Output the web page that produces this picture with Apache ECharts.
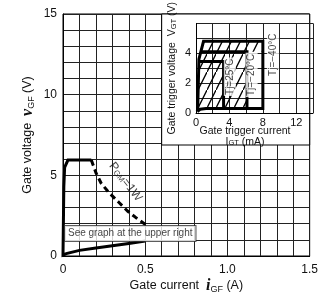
<!DOCTYPE html>
<html>
<head>
<meta charset="utf-8">
<script src="https://cdn.jsdelivr.net/npm/echarts@6/dist/echarts.min.js"></script>
<style>
  html, body { margin: 0; padding: 0; background: #fff; }
  #chart { width: 321px; height: 299px; }
</style>
</head>
<body>
<div id="chart"></div>
<script>
// main chart: gate characteristics (A, V)
const xTickVals = [0, 0.5, 1.0, 1.5];
const xTickText = ["0", "0.5", "1.0", "1.5"];
const yTickVals = [0, 5, 10, 15];
const yTickText = ["0", "5", "10", "15"];

// lower curve + left edge + top plateau (solid)
const solidCurve = [
  [0.5, 0.93], [0.4, 0.78], [0.3, 0.63], [0.2, 0.5], [0.1, 0.35], [0.02, 0.15], [0, 0.05],
  [0.005, 0.05], [0.005, 4.3], [0.01, 5.5], [0.03, 5.95], [0.172, 5.95]
];
// PGM = 1W (dashed)
const pgmCurve = [
  [0.172, 5.95], [0.178, 5.83], [0.202, 5.12], [0.232, 4.51], [0.282, 3.9],
  [0.342, 3.3], [0.392, 2.79], [0.442, 2.39], [0.502, 1.95]
];

// inset: gate trigger (mA, V)
const insetXTickVals = [0, 4, 8, 12];
const insetYTickVals = [0, 2, 4];
const tjMinus40 = [
  [0.15, 0.1], [0.5, 0.25], [1.2, 0.3], [8, 0.3], [8, 4.8], [0.9, 4.8], [0.35, 3.6], [0.2, 0.2], [0.15, 0.1]
];
const tjMinus20 = [[0.58, 4.1], [6.1, 4.1], [6.1, 0.3]];
const tj25 = [[0.33, 3.45], [3.3, 3.45], [3.3, 0.3]];
const hatchRegion = [
  [0.15, 0.1], [0.5, 0.25], [1.2, 0.3], [6.1, 0.3], [6.1, 4.1], [8, 4.1], [8, 4.8], [0.9, 4.8], [0.35, 3.6], [0.2, 0.2]
];

const isTick = (vals, v) => vals.some(t => Math.abs(t - v) < 1e-6);
const tickText = (vals, texts, v) => {
  const i = vals.findIndex(t => Math.abs(t - v) < 1e-6);
  return i < 0 ? "" : texts[i];
};

// hatch pattern
const pat = document.createElement("canvas");
pat.width = 9; pat.height = 18;
const pctx = pat.getContext("2d");
pctx.strokeStyle = "#000";
pctx.lineWidth = 1.3;
pctx.beginPath(); pctx.moveTo(0, 18); pctx.lineTo(9, 0); pctx.stroke();

const font = "Liberation Sans";
const gridColor = "#222";

const chart = echarts.init(document.getElementById("chart"), null, { renderer: "canvas" });

const option = {
  animation: false,
  backgroundColor: "#fff",
  textStyle: { fontFamily: font },
  grid: [
    { left: 63, right: 8, top: 14, bottom: 38, show: true, borderColor: "#000", borderWidth: 1 },
    { left: 196, right: 8, top: 14, bottom: 186 }
  ],
  xAxis: [
    {
      type: "value", gridIndex: 0, min: 0, max: 1.5, interval: 0.1,
      axisLine: { show: true, lineStyle: { color: "#000", width: 1 } },
      axisTick: { show: false },
      splitLine: { show: true, lineStyle: { color: gridColor, width: 1 } },
      axisLabel: {
        margin: 8, fontSize: 12, color: "#111", showMaxLabel: true,
        formatter: v => tickText(xTickVals, xTickText, v)
      },
      name: "Gate current  {it|i}{sub|GF} (A)", nameLocation: "middle", nameGap: 22,
      nameMoveOverlap: false,
      nameTextStyle: {
        fontSize: 12.5, color: "#111", fontFamily: font,
        rich: {
          it: { fontFamily: "Liberation Serif", fontStyle: "italic", fontWeight: "bold", fontSize: 16, verticalAlign: "bottom" },
          sub: { fontSize: 9, verticalAlign: "bottom" }
        }
      }
    },
    {
      type: "value", gridIndex: 1, min: 0, max: 14, interval: 2, z: 3,
      axisLine: { show: true, onZero: false, lineStyle: { color: "#000", width: 1 } },
      axisTick: { show: false },
      splitLine: { show: true, lineStyle: { color: gridColor, width: 1 } },
      axisLabel: {
        margin: 4, fontSize: 11, color: "#111",
        formatter: v => isTick(insetXTickVals, v) ? String(v) : ""
      },
      name: "Gate trigger current\n{s|I}{sub|GT} (mA)", nameLocation: "middle", nameGap: 13,
      nameMoveOverlap: false,
      nameTextStyle: {
        fontSize: 10.5, color: "#111", lineHeight: 10.5, padding: [0, 19, 0, 0],
        rich: { s: { fontSize: 10.5, lineHeight: 10.5 }, sub: { fontSize: 7.5, lineHeight: 10.5, verticalAlign: "bottom" } }
      }
    }
  ],
  yAxis: [
    {
      type: "value", gridIndex: 0, min: 0, max: 15, interval: 1,
      axisLine: { show: true, lineStyle: { color: "#000", width: 1 } },
      axisTick: { show: false },
      splitLine: { show: true, lineStyle: { color: gridColor, width: 1 } },
      axisLabel: {
        margin: 6, fontSize: 12, color: "#111",
        formatter: v => tickText(yTickVals, yTickText, v)
      },
      name: "Gate voltage  {it|v}{sub|GF} (V)", nameLocation: "middle", nameGap: 27,
      nameMoveOverlap: false,
      nameTextStyle: {
        fontSize: 12.5, color: "#111", fontFamily: font,
        rich: {
          it: { fontFamily: "Liberation Serif", fontStyle: "italic", fontWeight: "bold", fontSize: 16, verticalAlign: "bottom" },
          sub: { fontSize: 9, verticalAlign: "bottom" }
        }
      }
    },
    {
      type: "value", gridIndex: 1, min: 0, max: 6, interval: 1, z: 3,
      axisLine: { show: true, onZero: false, lineStyle: { color: "#000", width: 1 } },
      axisTick: { show: false },
      splitLine: { show: true, lineStyle: { color: gridColor, width: 1 } },
      axisLabel: {
        margin: 5, fontSize: 11, color: "#111",
        formatter: v => isTick(insetYTickVals, v) ? String(v) : ""
      },
      name: "Gate trigger voltage  {s|V}{sub|GT} (V)", nameLocation: "middle", nameGap: 18,
      nameMoveOverlap: false,
      nameTextStyle: {
        fontSize: 10.5, color: "#111",
        rich: { s: { fontSize: 10.5 }, sub: { fontSize: 7.5, verticalAlign: "bottom" } }
      }
    }
  ],
  series: [
    {
      type: "line", xAxisIndex: 0, yAxisIndex: 0, data: solidCurve,
      showSymbol: false, symbol: "none", z: 2,
      lineStyle: { color: "#000", width: 3, join: "miter" },
      markArea: {
        silent: true,
        itemStyle: { color: "#fff", borderColor: "#000", borderWidth: 1 },
        data: [[{ coord: [0.6, 6.88] }, { coord: [1.5, 15] }]]
      }
    },
    {
      type: "line", xAxisIndex: 0, yAxisIndex: 0, data: pgmCurve,
      showSymbol: false, symbol: "none", z: 2,
      lineStyle: { color: "#000", width: 3, type: [6, 4] }
    },
    {
      type: "scatter", xAxisIndex: 0, yAxisIndex: 0, symbolSize: 0, z: 3,
      data: [[0.38, 4.6]],
      label: {
        show: true, position: "inside", rotate: -52, color: "#111", fontSize: 12,
        formatter: "{s|P}{sub|GM}{s|=1W}",
        rich: { s: { fontSize: 12 }, sub: { fontSize: 8, verticalAlign: "bottom" } }
      }
    },
    {
      type: "scatter", xAxisIndex: 0, yAxisIndex: 0, symbolSize: 0, z: 3,
      data: [[0.012, 1.4]],
      label: {
        show: true, position: "right", distance: 0, color: "#111", fontSize: 10,
        formatter: "See graph at the upper right",
        backgroundColor: "#fff", borderColor: "#333", borderWidth: 1, padding: [3, 3, 2, 3]
      }
    },
    {
      type: "custom", xAxisIndex: 1, yAxisIndex: 1, z: 4, data: [[0, 0]],
      renderItem: (params, api) => ({
        type: "polygon",
        shape: { points: hatchRegion.map(p => api.coord(p)) },
        style: { fill: { image: pat, repeat: "repeat" }, stroke: null }
      })
    },
    ...[tjMinus40, tjMinus20, tj25].map(d => ({
      type: "line", xAxisIndex: 1, yAxisIndex: 1, data: d, z: 5,
      showSymbol: false, symbol: "none",
      lineStyle: { color: "#000", width: 3, join: "miter" }
    })),
    {
      type: "scatter", xAxisIndex: 1, yAxisIndex: 1, symbolSize: 0, z: 6,
      data: [
        { value: [4.05, 2.43], name: "Tj=25°C" },
        { value: [6.65, 2.55], name: "Tj=\u221220°C" },
        { value: [9.2, 3.9], name: "Tj=\u221240°C" }
      ],
      label: {
        show: true, position: "inside", rotate: 90, color: "#111", fontSize: 10,
        formatter: p => p.name, backgroundColor: "#fff", padding: [1, 1]
      }
    }
  ]
};

chart.setOption(option);
</script>
</body>
</html>
